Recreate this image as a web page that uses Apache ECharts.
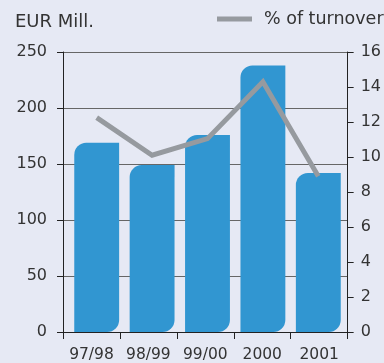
<!DOCTYPE html>
<html>
<head>
<meta charset="utf-8">
<script src="https://cdn.jsdelivr.net/npm/echarts@6/dist/echarts.min.js"></script>
<style>
  html, body { margin: 0; padding: 0; background: #e6e9f4; }
  #chart { width: 384px; height: 363px; }
</style>
</head>
<body>
<div id="chart"></div>
<script>
// Years shown on the category axis
const categories = ['97/98', '98/99', '99/00', '2000', '2001'];
// Spending in EUR millions (bars, left axis)
const eurMill = [169, 149, 176, 238, 142];
// Share of turnover in percent (line, right axis)
const pctTurnover = [12.25, 10.1, 11.05, 14.3, 8.9];

const FONT = 'DejaVu Sans';
const TEXT = '#333333';
const AXIS = '#222222';
const GRIDLINE = '#666666';

const chart = echarts.init(document.getElementById('chart'), null, { renderer: 'canvas' });

chart.setOption({
  backgroundColor: '#e6e9f4',
  animation: false,
  textStyle: { fontFamily: FONT, color: TEXT },
  title: {
    text: 'EUR Mill.',
    left: 10,
    top: 8,
    textStyle: { fontFamily: FONT, fontSize: 18, fontWeight: 'normal', color: TEXT }
  },
  legend: {
    data: ['% of turnover'],
    left: 212,
    top: 5,
    itemWidth: 35,
    itemHeight: 5,
    icon: 'rect',
    textStyle: { fontFamily: FONT, fontSize: 17.5, color: TEXT, padding: [0, 0, 0, 7] }
  },
  grid: [
    // framing grid: axis lines, ticks, gridlines and category labels
    { left: 63, right: 32, top: 52, bottom: 31 },
    // plotting grid: bars and line
    { left: 69, right: 38, top: 52, bottom: 31 }
  ],
  xAxis: [
    {
      type: 'category', gridIndex: 0, data: categories, boundaryGap: true,
      axisLine: { show: true, lineStyle: { color: AXIS, width: 1 } },
      axisTick: { show: true, length: 7, lineStyle: { color: AXIS } },
      axisLabel: {
        show: true, interval: 0, hideOverlap: false, margin: 15,
        fontFamily: FONT, fontSize: 15.5, color: TEXT
      },
      splitLine: { show: false }
    },
    {
      type: 'category', gridIndex: 1, data: categories, boundaryGap: true, show: false
    }
  ],
  yAxis: [
    {
      type: 'value', gridIndex: 0, position: 'left', min: 0, max: 250, interval: 50,
      axisLine: { show: true, lineStyle: { color: AXIS, width: 1 } },
      axisTick: { show: true, length: 6, lineStyle: { color: AXIS } },
      axisLabel: { margin: 16, fontFamily: FONT, fontSize: 16, color: TEXT },
      splitLine: { show: true, lineStyle: { color: GRIDLINE, width: 1 } }
    },
    {
      type: 'value', gridIndex: 0, position: 'right', min: 0, max: 16, interval: 2,
      axisLine: { show: true, lineStyle: { color: AXIS, width: 1 } },
      axisTick: { show: true, length: 6, lineStyle: { color: AXIS } },
      axisLabel: { margin: 13, fontFamily: FONT, fontSize: 16, color: TEXT },
      splitLine: { show: false }
    },
    {
      type: 'value', gridIndex: 1, min: 0, max: 250, interval: 50, show: false,
      splitLine: { show: false }
    },
    {
      type: 'value', gridIndex: 1, min: 0, max: 16, interval: 2, show: false,
      splitLine: { show: false }
    }
  ],
  series: [
    {
      name: 'EUR Mill.',
      type: 'bar',
      xAxisIndex: 1,
      yAxisIndex: 2,
      data: eurMill,
      barCategoryGap: '19%',
      itemStyle: { color: '#3196d1', borderRadius: [12, 0, 12, 0] },
      z: 2
    },
    {
      name: '% of turnover',
      type: 'line',
      xAxisIndex: 1,
      yAxisIndex: 3,
      data: pctTurnover,
      symbol: 'none',
      lineStyle: { color: '#969a9f', width: 5, cap: 'butt', join: 'miter' },
      itemStyle: { color: '#969a9f' },
      z: 3
    }
  ]
});
</script>
</body>
</html>
